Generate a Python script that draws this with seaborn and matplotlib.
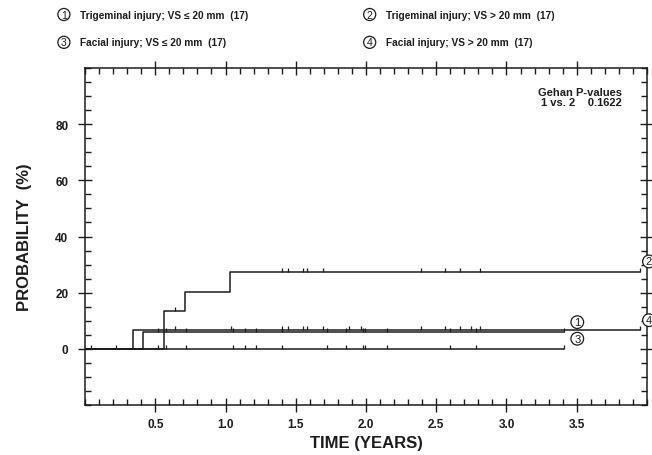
import numpy as np
import pandas as pd
import matplotlib
matplotlib.use("Agg")
import matplotlib.pyplot as plt
import seaborn as sns
from matplotlib.ticker import MultipleLocator
from matplotlib.path import Path

# ---------------- data ----------------
curve_ids = ["1", "2", "3", "4"]
legend_labels = [
    "Trigeminal injury; VS \u2264 20 mm  (17)",
    "Trigeminal injury; VS > 20 mm  (17)",
    "Facial injury; VS \u2264 20 mm  (17)",
    "Facial injury; VS > 20 mm  (17)",
]

step_times_1 = [0.0, 0.416]
step_probs_1 = [0.0, 5.9]
end_time_1 = 3.41
censor_1 = [0.517, 0.576, 0.72, 1.05, 1.136, 1.214, 1.405, 1.72, 1.857,
            1.98, 1.99, 2.148, 2.595, 2.78]

step_times_2 = [0.0, 0.562, 0.709, 1.031]
step_probs_2 = [0.0, 13.3, 20.4, 27.4]
end_time_2 = 3.95
censor_2 = [0.64, 1.40, 1.445, 1.55, 1.58, 1.695, 2.39, 2.56, 2.67, 2.81]

step_times_3 = [0.0]
step_probs_3 = [0.0]
end_time_3 = 3.41
censor_3 = [0.045, 0.224, 0.517, 0.576, 0.72, 1.05, 1.136, 1.214, 1.405,
            1.72, 1.857, 1.98, 1.99, 2.148, 2.595, 2.78]

step_times_4 = [0.0, 0.343]
step_probs_4 = [0.0, 6.6]
end_time_4 = 3.95
censor_4 = [0.64, 1.04, 1.40, 1.445, 1.55, 1.58, 1.695, 1.876, 1.964,
            2.39, 2.56, 2.67, 2.75, 2.81]

x_tick_values = [0.5, 1.0, 1.5, 2.0, 2.5, 3.0, 3.5]
x_tick_labels = ["0.5", "1.0", "1.5", "2.0", "2.5", "3.0", "3.5"]
y_tick_values = [0, 20, 40, 60, 80]
y_tick_labels = ["0", "20", "40", "60", "80"]

gehan_text = "Gehan P-values\n1 vs. 2    0.1622"

# ---------------- build tables ----------------
curves = {
    "1": (step_times_1, step_probs_1, end_time_1, censor_1),
    "2": (step_times_2, step_probs_2, end_time_2, censor_2),
    "3": (step_times_3, step_probs_3, end_time_3, censor_3),
    "4": (step_times_4, step_probs_4, end_time_4, censor_4),
}

line_rows, cens_rows = [], []
for cid, (ts, ps, te, cs) in curves.items():
    for t, p in zip(ts, ps):
        line_rows.append((cid, t, p))
    line_rows.append((cid, te, ps[-1]))
    for t in list(cs) + [te]:
        idx = np.searchsorted(ts, t, side="right") - 1
        cens_rows.append((cid, t, ps[idx]))
line_df = pd.DataFrame(line_rows, columns=["curve", "time", "prob"])
cens_df = pd.DataFrame(cens_rows, columns=["curve", "time", "prob"])

# ---------------- style ----------------
sns.set_theme(style="white")
plt.rcParams["font.family"] = ["Liberation Sans", "DejaVu Sans"]
ink = "#1c1c1c"

fig = plt.figure(figsize=(6.52, 4.56), dpi=100)
ax = fig.add_axes([0.1304, 0.1096, 0.8619, 0.7391])

sns.lineplot(data=line_df, x="time", y="prob", units="curve", estimator=None,
             drawstyle="steps-post", color=ink, linewidth=1.1, ax=ax,
             legend=False)

tick_marker = Path([(0, 0), (0, 1)], [Path.MOVETO, Path.LINETO])
sns.scatterplot(data=cens_df, x="time", y="prob", marker=tick_marker, s=40,
                color=ink, edgecolor=ink, linewidth=0.9, ax=ax, legend=False,
                zorder=3)

ax.set_xlim(0, 4.0)
ax.set_ylim(-20, 100)
ax.set_xticks(x_tick_values)
ax.set_xticklabels(x_tick_labels)
ax.set_yticks(y_tick_values)
ax.set_yticklabels(y_tick_labels)
ax.xaxis.set_minor_locator(MultipleLocator(0.1))
ax.yaxis.set_minor_locator(MultipleLocator(5))

ax.tick_params(which="both", top=True, right=True, bottom=True, left=True,
               color=ink, width=1.0)
ax.tick_params(which="major", direction="inout", length=10, labelsize=8.5,
               labelcolor=ink)
ax.tick_params(axis="x", which="major", pad=4)
ax.tick_params(axis="y", which="major", pad=7)
ax.tick_params(which="minor", direction="in", length=4)
for lbl in ax.get_xticklabels() + ax.get_yticklabels():
    lbl.set_fontweight("bold")

for s in ax.spines.values():
    s.set_color(ink)
    s.set_linewidth(1.1)

ax.set_xlabel("TIME (YEARS)", fontsize=12, fontweight="bold", color=ink,
              labelpad=4)
ax.set_ylabel("PROBABILITY  (%)", fontsize=12, fontweight="bold", color=ink,
              labelpad=17)

ax.text(0.955, 0.945, gehan_text, transform=ax.transAxes, ha="right",
        va="top", fontsize=8, fontweight="bold", color=ink,
        multialignment="right", linespacing=1.1)

# circled labels at curve ends
circ = dict(boxstyle="circle,pad=0.12", fc="white", ec=ink, lw=0.9)
end_offsets = {"1": (9.5, 7.3), "2": (6.5, 7.5), "3": (9.5, 7.3), "4": (6.5, 7.3)}
for cid, (ts, ps, te, cs) in curves.items():
    ax.annotate(cid, xy=(te, ps[-1]), xytext=end_offsets[cid],
                textcoords="offset points", ha="center", va="center",
                fontsize=8, color=ink, bbox=circ, annotation_clip=False,
                zorder=5)

# legend rows at the top
leg_pos = {"1": (0.098, 0.966), "2": (0.567, 0.966),
           "3": (0.098, 0.905), "4": (0.567, 0.905)}
lcirc = dict(boxstyle="circle,pad=0.1", fc="white", ec=ink, lw=0.9)
for cid, lab in zip(curve_ids, legend_labels):
    x, y = leg_pos[cid]
    fig.text(x, y, cid, ha="center", va="center", fontsize=7.5, color=ink,
             bbox=lcirc)
    fig.text(x + 0.025, y, lab, ha="left", va="center", fontsize=7.3,
             fontweight="bold", color=ink)

fig.savefig("out.png", dpi=100)
